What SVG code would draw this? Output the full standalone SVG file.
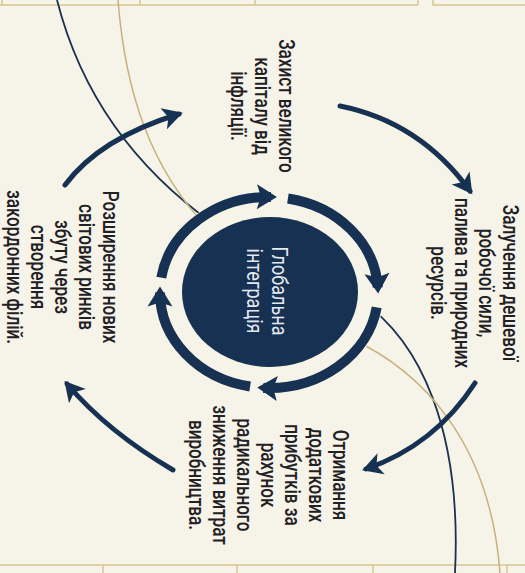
<svg xmlns="http://www.w3.org/2000/svg" width="525" height="573" viewBox="0 0 525 573">
<style>
.frame{fill:none;stroke:#d6c692;stroke-width:1.5}
.thin-navy{fill:none;stroke:#1a3150;stroke-width:1.8}
.thin-gold{fill:none;stroke:#c8b27c;stroke-width:1.5}
.big{fill:none;stroke:#173152;stroke-width:5;stroke-linecap:round}
.ring{fill:none;stroke:#173152;stroke-width:10}
.lbl{font-family:Roboto,"Liberation Sans",sans-serif;font-size:19px;font-weight:500;fill:#1f2124;text-anchor:middle}
.ctr{font-family:Roboto,"Liberation Sans",sans-serif;font-size:19px;fill:#e4e9ef;text-anchor:middle}
</style>
<defs>
<marker id="bigHead" markerUnits="userSpaceOnUse" viewBox="-20 -14 28 28" markerWidth="28" markerHeight="28" refX="0" refY="0" orient="auto">
<path d="M4,0 L-16,-11 L-11,0 L-16,11 Z" fill="#173152"/>
</marker>
<marker id="ringHead" markerUnits="userSpaceOnUse" viewBox="-20 -16 30 32" markerWidth="30" markerHeight="32" refX="0" refY="0" orient="auto">
<path d="M6,0 L-14,-12.5 L-10,0 L-14,12.5 Z" fill="#173152"/>
</marker>
</defs>
<rect x="0" y="0" width="525" height="573" fill="#f6f3e8"/>
<g id="frames">
<path class="frame" d="M0,5 H418 M2,0 V5 M140,0 V5 M255,0 V5 M418,0 V5 M433,0 V5 H525"/>
<path class="frame" d="M0,565 H525 M103,565 V573 M237,565 V573 M373,565 V573 M507,565 V573"/>
</g>
<g id="background-curves">
<path class="thin-navy" d="M57,0 C80,90 130,165 215,225"/>
<path class="thin-gold" d="M118,0 C125,90 150,170 210,230"/>
<path class="thin-navy" d="M360,300 C420,340 462,430 455,573"/>
<path class="thin-gold" d="M350,338 C420,370 490,440 500,573"/>
</g>
<ellipse cx="269" cy="292.5" rx="115" ry="101" fill="#f6f3e8"/>
<g id="connectors">
<path class="big" d="M340,106 Q420,122 470,191" marker-end="url(#bigHead)"/>
<path class="big" d="M475,383 Q435,445 366,469" marker-end="url(#bigHead)"/>
<path class="big" d="M173,470 Q108,432 67,384" marker-end="url(#bigHead)"/>
<path class="big" d="M65,185 Q100,138 179,114" marker-end="url(#bigHead)"/>
</g>
<g id="cycle-ring">
<path class="ring" d="M161.3,277.6 A109,95.5 0 0 1 270.9,197" marker-end="url(#ringHead)"/>
<path class="ring" d="M287.9,198.5 A109,95.5 0 0 1 377.8,287.5" marker-end="url(#ringHead)"/>
<path class="ring" d="M376.7,307.4 A109,95.5 0 0 1 263.3,387.9" marker-end="url(#ringHead)"/>
<path class="ring" d="M250.1,386.5 A109,95.5 0 0 1 160,292.5" marker-end="url(#ringHead)"/>
</g>
<g id="center-node">
<ellipse cx="270" cy="292" rx="88" ry="75" fill="#173152"/>
<g transform="translate(272,291) rotate(90) scale(0.95,1.15)">
<text class="ctr" x="0" y="0">Глобальна</text>
<text class="ctr" x="0" y="22">інтеграція</text>
</g>
</g>
<g id="node-labour">
<g transform="translate(503,283) rotate(90) scale(0.9,1.15)">
<text class="lbl" x="0" y="0">Залучення дешевої</text>
<text class="lbl" x="0" y="20.8">робочої сили,</text>
<text class="lbl" x="0" y="41.6">палива та природних</text>
<text class="lbl" x="0" y="62.4">ресурсів.</text>
</g>
</g>
<g id="node-profit">
<g transform="translate(333,475) rotate(90) scale(0.9,1.15)">
<text class="lbl" x="0" y="0">Отримання</text>
<text class="lbl" x="0" y="20.8">додаткових</text>
<text class="lbl" x="0" y="41.6">прибутків за</text>
<text class="lbl" x="0" y="62.4">рахунок</text>
<text class="lbl" x="0" y="83.2">радикального</text>
<text class="lbl" x="0" y="104">зниження витрат</text>
<text class="lbl" x="0" y="124.8">виробництва.</text>
</g>
</g>
<g id="node-markets">
<g transform="translate(103,267) rotate(90) scale(0.9,1.15)">
<text class="lbl" x="0" y="0">Розширення нових</text>
<text class="lbl" x="0" y="20.8">світових ринків</text>
<text class="lbl" x="0" y="41.6">збуту через</text>
<text class="lbl" x="0" y="62.4">створення</text>
<text class="lbl" x="0" y="83.2">закордонних філій.</text>
</g>
</g>
<g id="node-capital">
<g transform="translate(279,106) rotate(90) scale(0.9,1.15)">
<text class="lbl" x="0" y="0">Захист великого</text>
<text class="lbl" x="0" y="20.8">капіталу від</text>
<text class="lbl" x="0" y="41.6">інфляції.</text>
</g>
</g>
</svg>
